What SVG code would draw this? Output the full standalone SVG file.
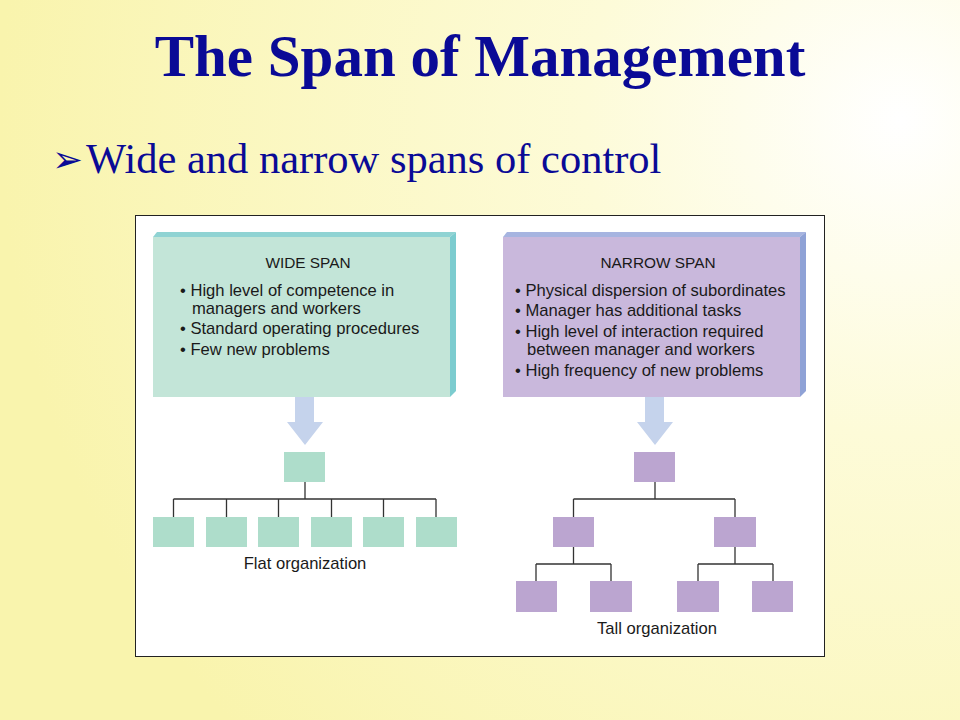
<svg xmlns="http://www.w3.org/2000/svg" width="960" height="720" viewBox="0 0 960 720">
<defs>
<radialGradient id="bg" cx="900" cy="120" r="900" gradientUnits="userSpaceOnUse">
<stop offset="0" stop-color="#ffffff"/>
<stop offset="0.35" stop-color="#fdfbd8"/>
<stop offset="1" stop-color="#f9f4ad"/>
</radialGradient>
<style>
.title{font-family:"Liberation Serif",serif;font-weight:bold;font-size:59px;fill:#0a0a96}
.sub{font-family:"Liberation Serif",serif;font-size:42.5px;fill:#0a0a96}
.hd{font-family:"Liberation Sans",Arial,sans-serif;font-size:15.4px;fill:#1a1a1a}
.bt{font-family:"Liberation Sans",Arial,sans-serif;font-size:16.6px;fill:#1a1a1a}
.lbl{font-family:"Liberation Sans",Arial,sans-serif;font-size:16.6px;fill:#1a1a1a}
.g{fill:#aeddcb}
.p{fill:#bba5d0}
.ln{stroke:#333;stroke-width:1.3;fill:none}
.arr{fill:#c5d3ec}
</style>
</defs>
<rect width="960" height="720" fill="url(#bg)"/>
<text class="title" x="480" y="76" text-anchor="middle">The Span of Management</text>
<text x="52" y="172" font-family="DejaVu Sans,sans-serif" font-size="37" fill="#0a0a96">➢</text>
<text class="sub" x="86" y="173">Wide and narrow spans of control</text>
<rect x="135.5" y="215.5" width="689" height="441" fill="#ffffff" stroke="#222" stroke-width="1"/>

<g id="wide-span">
<polygon points="153,237 157,232 456,232 450,237" fill="#8fd3d3"/>
<polygon points="450,237 456,232 456,391 450,397" fill="#7ccccf"/>
<rect x="153" y="237" width="297" height="160" fill="#c3e5d8"/>
<text class="hd" x="308" y="268" text-anchor="middle">WIDE SPAN</text>
<text class="bt" x="180" y="296">• High level of competence in</text>
<text class="bt" x="192" y="314">managers and workers</text>
<text class="bt" x="180" y="334">• Standard operating procedures</text>
<text class="bt" x="180" y="355">• Few new problems</text>
</g>
<g id="narrow-span">
<polygon points="503,237 507,232 806,232 800,237" fill="#a6b4e0"/>
<polygon points="800,237 806,232 806,391 800,397" fill="#8fa2d6"/>
<rect x="503" y="237" width="297" height="160" fill="#c9b8dc"/>
<text class="hd" x="658" y="268" text-anchor="middle">NARROW SPAN</text>
<text class="bt" x="515" y="296">• Physical dispersion of subordinates</text>
<text class="bt" x="515" y="316">• Manager has additional tasks</text>
<text class="bt" x="515" y="337">• High level of interaction required</text>
<text class="bt" x="527" y="355">between manager and workers</text>
<text class="bt" x="515" y="376">• High frequency of new problems</text>
</g>
<g id="arrows">
<polygon class="arr" points="295,397 314,397 314,422 323,422 305,445 287,422 295,422"/>
<polygon class="arr" points="645,397 664,397 664,422 673,422 655,445 637,422 645,422"/>
</g>

<g id="connectors">
<path class="ln" d="M305,482 V499 M173.5,499 H436 M173.5,499 V517 M226.5,499 V517 M278.5,499 V517 M331.5,499 V517 M383.5,499 V517 M436,499 V517"/>
<path class="ln" d="M655,482 V499 M573.5,499 H735 M573.5,499 V517 M735,499 V517 M573.5,547 V564 M536,564 H611 M536,564 V581 M611,564 V581 M735,547 V564 M698,564 H773 M698,564 V581 M773,564 V581"/>
</g>

<g id="flat-org">
<rect id="flat-top" class="g" x="284" y="452" width="41" height="30"/>
<rect class="g" x="153" y="517" width="41" height="30"/>
<rect class="g" x="206" y="517" width="41" height="30"/>
<rect class="g" x="258" y="517" width="41" height="30"/>
<rect class="g" x="311" y="517" width="41" height="30"/>
<rect class="g" x="363" y="517" width="41" height="30"/>
<rect class="g" x="416" y="517" width="41" height="30"/>
<text class="lbl" x="305" y="569" text-anchor="middle">Flat organization</text>
</g>
<g id="tall-org">
<rect class="p" x="634" y="452" width="41" height="30"/>
<rect class="p" x="553" y="517" width="41" height="30"/>
<rect class="p" x="714" y="517" width="42" height="30"/>
<rect class="p" x="516" y="581" width="41" height="31"/>
<rect class="p" x="590" y="581" width="42" height="31"/>
<rect class="p" x="677" y="581" width="42" height="31"/>
<rect class="p" x="752" y="581" width="41" height="31"/>
<text class="lbl" x="657" y="634" text-anchor="middle">Tall organization</text>
</g>
</svg>
